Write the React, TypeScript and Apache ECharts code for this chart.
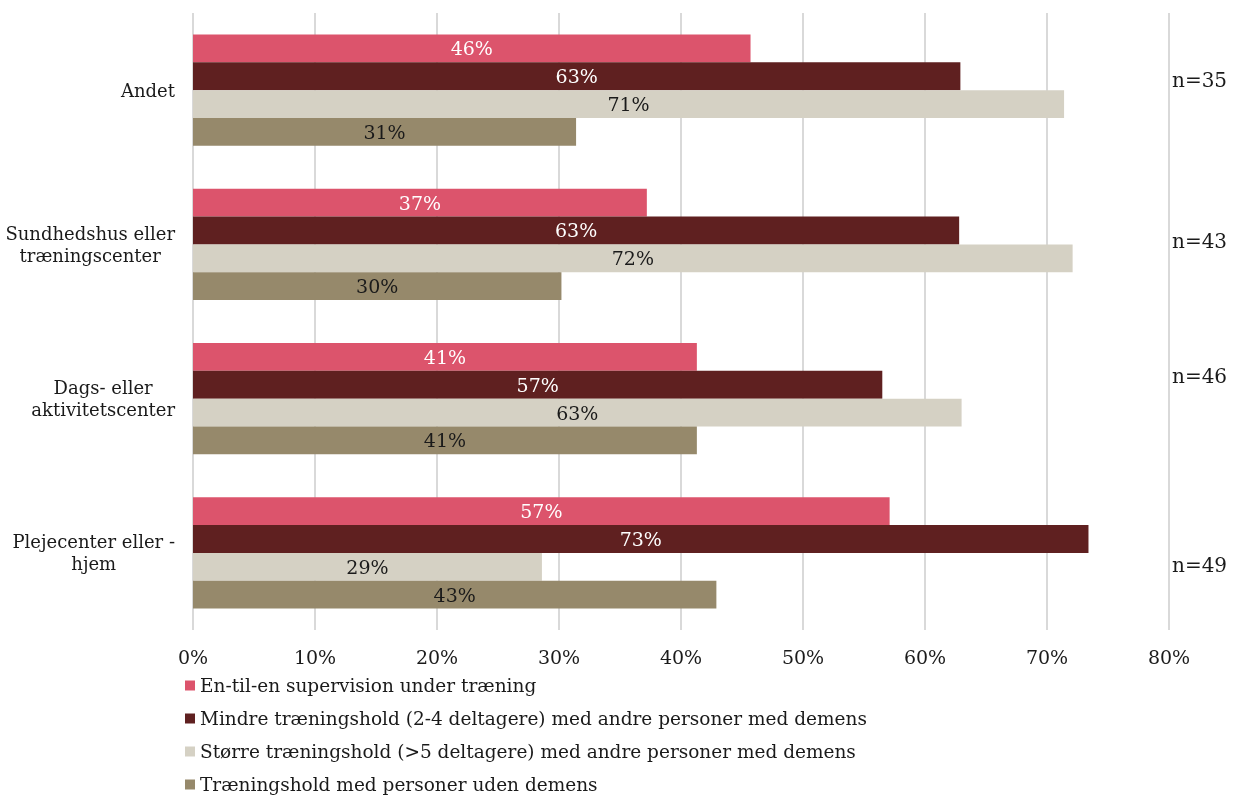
import React, { useEffect, useRef } from "react";
import * as echarts from "echarts";

const categories = [
  "Andet",
  "Sundhedshus eller\ntræningscenter",
  "Dags- eller\naktivitetscenter",
  "Plejecenter eller -\nhjem",
];
const seriesNames = [
  "En-til-en supervision under træning",
  "Mindre træningshold (2-4 deltagere) med andre personer med demens",
  "Større træningshold (>5 deltagere) med andre personer med demens",
  "Træningshold med personer uden demens",
];
const enTilEn = [45.7, 37.2, 41.3, 57.1];
const mindre = [62.9, 62.8, 56.5, 73.4];
const stoerre = [71.4, 72.1, 63.0, 28.6];
const uden = [31.4, 30.2, 41.3, 42.9];
const nLabels = ["n=35", "n=43", "n=46", "n=49"];
const nLabelY = [82, 243, 378, 567];
const colors = ["#dc546c", "#5f2020", "#d5d1c4", "#96896b"];
const labelColors = ["#ffffff", "#ffffff", "#1a1a1a", "#1a1a1a"];
const FONT = "DejaVu Serif";

export default function App() {
  const ref = useRef<HTMLDivElement>(null);
  useEffect(() => {
    const chart = echarts.init(ref.current!, null, { renderer: "svg" });
    const data = [enTilEn, mindre, stoerre, uden];
    chart.setOption({
      animation: false,
      textStyle: { fontFamily: FONT },
      grid: { left: 193, right: 67, top: 13, bottom: 165 },
      xAxis: {
        type: "value",
        min: 0,
        max: 80,
        interval: 10,
        axisLine: { show: false },
        axisTick: { show: false },
        splitLine: { lineStyle: { color: "#d9d9d9", width: 2 } },
        axisLabel: {
          formatter: "{value}%",
          fontFamily: FONT,
          fontSize: 19,
          color: "#1a1a1a",
          margin: 17,
        },
      },
      yAxis: {
        type: "category",
        data: categories,
        inverse: true,
        axisLine: { show: false },
        axisTick: { show: false },
        axisLabel: {
          margin: 18,
          formatter: (v: string) =>
            v.split("\n").map((l) => `{c|${l}}`).join("\n"),
          rich: {
            c: {
              align: "center",
              fontFamily: FONT,
              fontSize: 18,
              lineHeight: 22,
              color: "#1a1a1a",
            },
          },
        },
      },
      legend: {
        orient: "vertical",
        left: 185,
        top: 676,
        height: 140,
        padding: 0,
        itemWidth: 10,
        itemHeight: 10,
        itemGap: 14,
        icon: "rect",
        textStyle: { fontFamily: FONT, fontSize: 18.5, color: "#1a1a1a", padding: [0, 0, 0, 0] },
        data: seriesNames,
      },
      series: seriesNames.map((name, i) => ({
        name,
        type: "bar",
        data: data[i],
        barGap: "0%",
        barCategoryGap: "28%",
        itemStyle: { color: colors[i] },
        label: {
          show: true,
          position: "inside",
          formatter: (p: any) => Math.round(p.value) + "%",
          color: labelColors[i],
          fontFamily: FONT,
          fontSize: 19,
        },
      })),
      graphic: nLabels.map((t, i) => ({
        type: "text",
        left: 1172,
        top: nLabelY[i] - 12,
        style: { text: t, fontFamily: FONT, fontSize: 20, fill: "#1a1a1a" },
      })),
    });
    return () => chart.dispose();
  }, []);
  return (
    <div
      ref={ref}
      style={{ position: "fixed", left: 0, top: 0, width: 1236, height: 795 }}
    />
  );
}
